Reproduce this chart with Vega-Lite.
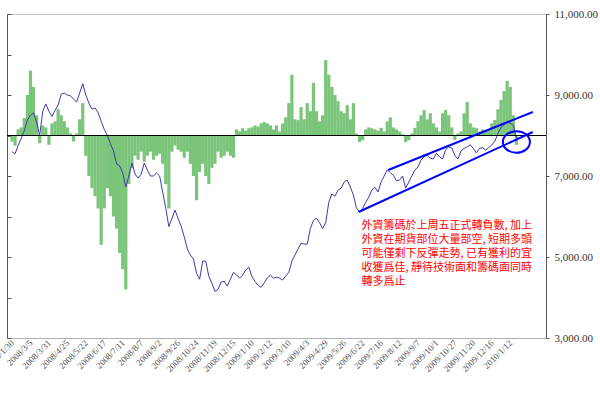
{
  "$schema": "https://vega.github.io/schema/vega-lite/v6.json",
  "width": 539,
  "height": 324,
  "autosize": {"type": "none"},
  "padding": {"left": 7, "top": 14, "right": 54, "bottom": 58},
  "background": "white",
  "config": {
    "view": {"stroke": "#c4c4c4", "strokeWidth": 1},
    "axisX": {"labelOverlap": false, "labelBound": false, "labelFlush": false, "tickCount": 40}
  },
  "datasets": {
    "series": [
      {"t":0,"idx":7600,"fx":-1.5},{"t":3,"idx":7550,"fx":-2.5},{"t":6,"idx":7750,"fx":1.5},{"t":9,"idx":7930,"fx":2},
      {"t":12,"idx":8120,"fx":4.3},{"t":15,"idx":8380,"fx":10},{"t":18,"idx":8500,"fx":16},{"t":21,"idx":8560,"fx":12},
      {"t":24,"idx":8330,"fx":5},{"t":27,"idx":8000,"fx":-1.9},{"t":30,"idx":8600,"fx":2.5},{"t":33,"idx":8780,"fx":2},
      {"t":36,"idx":8600,"fx":-2.3},{"t":39,"idx":8470,"fx":3},{"t":42,"idx":8620,"fx":3.5},{"t":45,"idx":8750,"fx":6.5},
      {"t":48,"idx":9020,"fx":5},{"t":51,"idx":9050,"fx":3.5},{"t":54,"idx":9000,"fx":2},{"t":57,"idx":8980,"fx":0.5},
      {"t":60,"idx":8900,"fx":-1.5},{"t":63,"idx":8830,"fx":0.5},{"t":66,"idx":9050,"fx":4},{"t":69,"idx":9280,"fx":8},
      {"t":72,"idx":9000,"fx":-5},{"t":75,"idx":8800,"fx":-10},{"t":78,"idx":8650,"fx":-13},{"t":81,"idx":8680,"fx":-15},
      {"t":84,"idx":8560,"fx":-18},{"t":87,"idx":8350,"fx":-27},{"t":90,"idx":8150,"fx":-18},{"t":93,"idx":8000,"fx":-13},
      {"t":96,"idx":7800,"fx":-15},{"t":99,"idx":7620,"fx":-20},{"t":102,"idx":7300,"fx":-23},{"t":105,"idx":7250,"fx":-29},
      {"t":108,"idx":7080,"fx":-33},{"t":111,"idx":6730,"fx":-38},{"t":114,"idx":7000,"fx":-12},{"t":117,"idx":7320,"fx":-8},
      {"t":120,"idx":7050,"fx":-5},{"t":123,"idx":6950,"fx":-6},{"t":126,"idx":7050,"fx":-4},{"t":129,"idx":7320,"fx":-6.5},
      {"t":132,"idx":7150,"fx":-5},{"t":135,"idx":7000,"fx":-4},{"t":138,"idx":7000,"fx":-6},{"t":141,"idx":7075,"fx":-5},
      {"t":144,"idx":7000,"fx":-4.5},{"t":147,"idx":6600,"fx":-7},{"t":150,"idx":6200,"fx":-12},{"t":153,"idx":5750,"fx":-18},
      {"t":156,"idx":5950,"fx":-4},{"t":159,"idx":6160,"fx":-2.5},{"t":162,"idx":5950,"fx":-3.5},{"t":165,"idx":5760,"fx":-4},
      {"t":168,"idx":5500,"fx":-5.5},{"t":171,"idx":5200,"fx":-4},{"t":174,"idx":5050,"fx":-7},{"t":177,"idx":4950,"fx":-10},
      {"t":180,"idx":4600,"fx":-16},{"t":183,"idx":4450,"fx":-9},{"t":186,"idx":4900,"fx":-7},{"t":189,"idx":4900,"fx":-10},
      {"t":192,"idx":4520,"fx":-12},{"t":195,"idx":4350,"fx":-8},{"t":198,"idx":4150,"fx":-7},{"t":201,"idx":4200,"fx":-4},
      {"t":204,"idx":4380,"fx":-5.5},{"t":207,"idx":4400,"fx":-5},{"t":210,"idx":4280,"fx":-4},{"t":213,"idx":4450,"fx":-5},
      {"t":216,"idx":4620,"fx":-5.5},{"t":219,"idx":4560,"fx":1.5},{"t":222,"idx":4480,"fx":1},{"t":225,"idx":4550,"fx":1.8},
      {"t":228,"idx":4680,"fx":1.2},{"t":231,"idx":4750,"fx":1.8},{"t":234,"idx":4520,"fx":2},{"t":237,"idx":4400,"fx":2.5},
      {"t":240,"idx":4300,"fx":2.2},{"t":243,"idx":4250,"fx":3},{"t":246,"idx":4360,"fx":3.3},{"t":249,"idx":4480,"fx":3},
      {"t":252,"idx":4555,"fx":2.5},{"t":255,"idx":4480,"fx":1.5},{"t":258,"idx":4500,"fx":2.5},{"t":261,"idx":4480,"fx":1},
      {"t":264,"idx":4430,"fx":3},{"t":267,"idx":4530,"fx":4.5},{"t":270,"idx":4620,"fx":8},{"t":273,"idx":4900,"fx":15},
      {"t":276,"idx":5050,"fx":4},{"t":279,"idx":5200,"fx":3.8},{"t":282,"idx":5340,"fx":7},{"t":285,"idx":5320,"fx":4},
      {"t":288,"idx":5320,"fx":8},{"t":291,"idx":5700,"fx":6},{"t":294,"idx":5900,"fx":13},{"t":297,"idx":5960,"fx":6},
      {"t":300,"idx":5850,"fx":3.5},{"t":303,"idx":5700,"fx":5},{"t":306,"idx":5850,"fx":18.6},{"t":309,"idx":6350,"fx":15},
      {"t":312,"idx":6560,"fx":12},{"t":315,"idx":6500,"fx":10},{"t":318,"idx":6650,"fx":8.5},{"t":321,"idx":6700,"fx":6},
      {"t":324,"idx":6850,"fx":5.5},{"t":327,"idx":6900,"fx":7.5},{"t":330,"idx":6730,"fx":4},{"t":333,"idx":6530,"fx":8},
      {"t":336,"idx":6210,"fx":0.5},{"t":339,"idx":6120,"fx":-1.6},{"t":342,"idx":6200,"fx":-1.2},{"t":345,"idx":6350,"fx":1.5},
      {"t":348,"idx":6480,"fx":2},{"t":351,"idx":6650,"fx":1.8},{"t":354,"idx":6720,"fx":1.5},{"t":357,"idx":6605,"fx":1.2},
      {"t":360,"idx":6850,"fx":1.9},{"t":363,"idx":7000,"fx":1},{"t":366,"idx":7150,"fx":3.5},{"t":369,"idx":7080,"fx":4.5},
      {"t":372,"idx":7020,"fx":2},{"t":375,"idx":6880,"fx":1.5},{"t":378,"idx":6900,"fx":1},{"t":381,"idx":7000,"fx":0.3},
      {"t":384,"idx":6700,"fx":-1.6},{"t":387,"idx":6850,"fx":-1.2},{"t":390,"idx":7000,"fx":0.5},{"t":393,"idx":7150,"fx":1.9},
      {"t":396,"idx":7222,"fx":3.5},{"t":399,"idx":7400,"fx":5},{"t":402,"idx":7470,"fx":6.3},{"t":405,"idx":7520,"fx":4},
      {"t":408,"idx":7440,"fx":5.5},{"t":411,"idx":7420,"fx":3},{"t":414,"idx":7560,"fx":2},{"t":417,"idx":7470,"fx":1},
      {"t":420,"idx":7420,"fx":5.5},{"t":423,"idx":7650,"fx":6.3},{"t":426,"idx":7720,"fx":5},{"t":429,"idx":7690,"fx":2},
      {"t":432,"idx":7500,"fx":-1.1},{"t":435,"idx":7420,"fx":0.5},{"t":438,"idx":7620,"fx":1},{"t":441,"idx":7680,"fx":5.5},
      {"t":444,"idx":7720,"fx":8.3},{"t":447,"idx":7770,"fx":3},{"t":450,"idx":7680,"fx":2},{"t":453,"idx":7570,"fx":1.8},
      {"t":456,"idx":7680,"fx":1},{"t":459,"idx":7700,"fx":1.5},{"t":462,"idx":7640,"fx":1.4},{"t":465,"idx":7700,"fx":1.4},
      {"t":468,"idx":7765,"fx":3},{"t":471,"idx":7860,"fx":3.8},{"t":474,"idx":8050,"fx":6.5},{"t":477,"idx":8200,"fx":8.8},
      {"t":480,"idx":8270,"fx":11},{"t":483,"idx":8320,"fx":13.5},{"t":486,"idx":8310,"fx":12},{"t":489,"idx":8250,"fx":5},
      {"t":492,"idx":7950,"fx":-2.3}
    ],
    "base": [{"level": 8000}],
    "channel": [
      {"t1": 367, "v1": 7148, "t2": 508, "v2": 8580},
      {"t1": 338, "v1": 6111, "t2": 508, "v2": 8086}
    ],
    "circle": [{"t": 492, "v": 7840}],
    "note": [{"t": 341, "v": 5914, "text": "外資籌碼於上周五正式轉負數, 加上\n外資在期貨部位大量部空, 短期多頭\n可能僅剩下反彈走勢, 已有獲利的宜\n收獲爲佳, 靜待技術面和籌碼面同時\n轉多爲止"}]
  },
  "layer": [
    {
      "data": {"name": "series"},
      "mark": {"type": "bar", "width": 3.2, "color": "#6cbf6c", "opacity": 0.9},
      "encoding": {
        "x": {
          "field": "t", "type": "quantitative",
          "scale": {"domain": [0, 516], "nice": false, "zero": false},
          "axis": {
            "orient": "bottom", "title": null, "grid": false, "ticks": false,
            "domainColor": "#b0b0b0", "tickCount": 40,
            "values": [0,18,36,54,72,90,108,126,144,162,180,198,216,234,252,270,288,306,324,342,360,378,396,414,432,450,468,486],
            "labelExpr": "['2008/1/30','2008/3/5','2008/3/31','2008/4/25','2008/5/22','2008/6/17','2008/7/11','2008/8/7','2008/9/2','2008/9/26','2008/10/24','2008/11/19','2008/12/15','2009/1/10','2009/2/12','2009/3/10','2009/4/3','2009/4/29','2009/5/26','2009/6/22','2009/7/16','2009/8/12','2009/9/7','2009/10/1','2009/10/27','2009/11/20','2009/12/16','2010/1/12'][round(datum.value/18)]",
            "labelAngle": -45, "labelAlign": "right", "labelBaseline": "middle",
            "labelFont": "Liberation Serif", "labelFontSize": 9, "labelColor": "#555555",
            "labelPadding": 3, "labelOverlap": false, "labelBound": false, "labelFlush": false
          }
        },
        "y": {
          "field": "fx", "type": "quantitative",
          "scale": {"domain": [-50, 30], "nice": false},
          "axis": {
            "orient": "left", "title": null, "grid": false, "labels": false, "tickCount": 20,
            "values": [-50,-40,-30,-20,-10,0,10,20,30],
            "tickSize": -4, "tickColor": "#555555", "domainColor": "#555555"
          }
        }
      }
    },
    {
      "layer": [
        {
          "data": {"name": "series"},
          "mark": {"type": "line", "color": "#3c3ca6", "strokeWidth": 1},
          "encoding": {
            "x": {
              "field": "t", "type": "quantitative",
              "scale": {"domain": [0, 516], "nice": false, "zero": false},
              "axis": {
                "orient": "bottom", "title": null, "grid": false, "ticks": false,
                "domainColor": "#b0b0b0", "tickCount": 40,
                "values": [0,18,36,54,72,90,108,126,144,162,180,198,216,234,252,270,288,306,324,342,360,378,396,414,432,450,468,486],
                "labelExpr": "['2008/1/30','2008/3/5','2008/3/31','2008/4/25','2008/5/22','2008/6/17','2008/7/11','2008/8/7','2008/9/2','2008/9/26','2008/10/24','2008/11/19','2008/12/15','2009/1/10','2009/2/12','2009/3/10','2009/4/3','2009/4/29','2009/5/26','2009/6/22','2009/7/16','2009/8/12','2009/9/7','2009/10/1','2009/10/27','2009/11/20','2009/12/16','2010/1/12'][round(datum.value/18)]",
                "labelAngle": -45, "labelAlign": "right", "labelBaseline": "middle",
                "labelFont": "Liberation Serif", "labelFontSize": 9, "labelColor": "#555555",
                "labelPadding": 3, "labelOverlap": false, "labelBound": false, "labelFlush": false
              }
            },
            "y": {
              "field": "idx", "type": "quantitative",
              "scale": {"domain": [3000, 11000], "nice": false},
              "axis": {
                "orient": "right", "title": null, "grid": false, "format": ",.2f",
                "values": [3000, 5000, 7000, 9000, 11000],
                "labelFont": "Liberation Serif", "labelFontSize": 11, "labelColor": "#333333",
                "tickSize": 3, "tickColor": "#555555", "domainColor": "#555555", "labelPadding": 5
              }
            }
          }
        },
        {
          "data": {"name": "base"},
          "mark": {"type": "rule", "color": "#000000", "strokeWidth": 1},
          "encoding": {
            "y": {"field": "level", "type": "quantitative", "scale": {"domain": [3000, 11000], "nice": false}}
          }
        },
        {
          "data": {"name": "channel"},
          "mark": {"type": "rule", "color": "#0000ff", "strokeWidth": 2},
          "encoding": {
            "x": {"field": "t1", "type": "quantitative", "scale": {"domain": [0, 516], "nice": false, "zero": false}},
            "x2": {"field": "t2"},
            "y": {"field": "v1", "type": "quantitative", "scale": {"domain": [3000, 11000], "nice": false}},
            "y2": {"field": "v2"}
          }
        },
        {
          "data": {"name": "circle"},
          "mark": {"type": "point", "shape": "M-1,0A1,0.8,0,1,1,1,0A1,0.8,0,1,1,-1,0Z", "size": 729, "filled": false, "stroke": "#0000ff", "strokeWidth": 2, "opacity": 1},
          "encoding": {
            "x": {"field": "t", "type": "quantitative", "scale": {"domain": [0, 516], "nice": false, "zero": false}},
            "y": {"field": "v", "type": "quantitative", "scale": {"domain": [3000, 11000], "nice": false}}
          }
        },
        {
          "data": {"name": "note"},
          "mark": {"type": "text", "align": "left", "baseline": "top", "lineBreak": "\n", "lineHeight": 14, "font": "Noto Sans CJK TC", "fontSize": 11, "color": "#ff0000"},
          "encoding": {
            "x": {"field": "t", "type": "quantitative", "scale": {"domain": [0, 516], "nice": false, "zero": false}},
            "y": {"field": "v", "type": "quantitative", "scale": {"domain": [3000, 11000], "nice": false}},
            "text": {"field": "text"}
          }
        }
      ]
    }
  ],
  "resolve": {"scale": {"y": "independent"}, "axis": {"y": "independent"}}
}
